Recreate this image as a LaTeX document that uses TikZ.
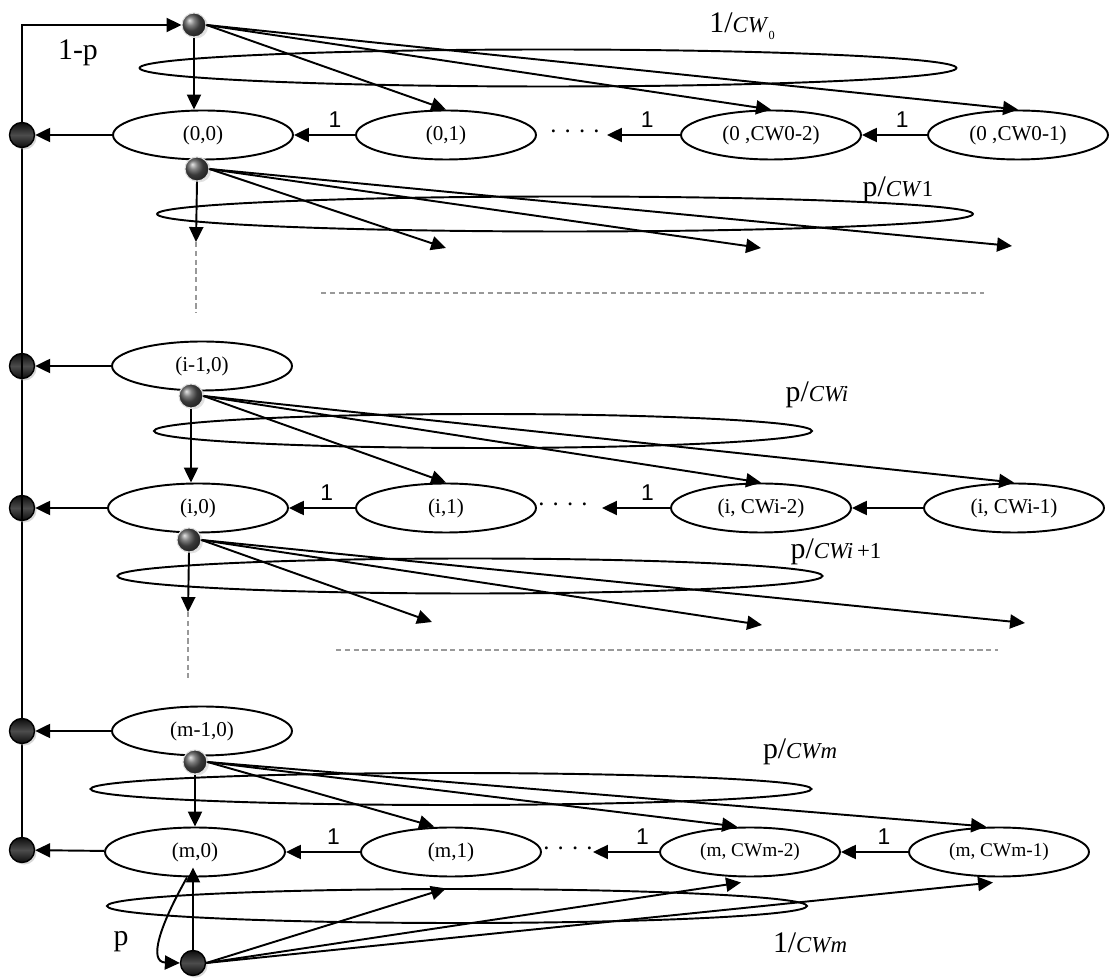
\documentclass[tikz,border=0pt]{standalone}
\usepackage{fontspec}
\setmainfont{Liberation Serif}
\newfontfamily\arialfont{Liberation Sans}
\usetikzlibrary{arrows.meta,positioning,calc,shapes.geometric,shadows,backgrounds}
\tikzset{
  statebox/.style={
    ellipse,
    draw,
    line width=1.1pt,
    minimum width=3.6cm,
    minimum height=0.98cm,
    inner sep=0pt,
    font=\fontsize{12}{14}\selectfont
  },
  smallstate/.style={statebox, font=\fontsize{11}{13}\selectfont},
  pickbox/.style={ellipse, draw, line width=1.1pt, inner sep=0pt},
  dotnode/.style={circle, inner sep=0pt, minimum size=0.48cm, draw=gray!25, line width=0.6pt,
    shading=ball, ball color=gray!65!black,
    drop shadow={shadow xshift=1.2pt, shadow yshift=-0.8pt, fill=gray!45}},
  sinknode/.style={circle, inner sep=0pt, minimum size=0.5cm, draw=black, line width=0.8pt,
    top color=black!95, bottom color=black!95, middle color=gray!60!black,
    drop shadow={shadow xshift=1.2pt, shadow yshift=-1.2pt, fill=gray!60}},
  flow/.style={-{Triangle[length=8.5pt,width=8pt]}, line width=1.1pt},
  gapline/.style={gray!80, line width=0.6pt, dash pattern=on 3pt off 2pt},
  steplabel/.style={font=\arialfont\fontsize{13}{15}\selectfont, inner sep=1pt},
  problabel/.style={font=\fontsize{17}{19}\selectfont, inner sep=0pt},
  dotslabel/.style={font=\fontsize{14}{16}\selectfont, inner sep=0pt}
}
\newcommand{\cwtext}[1]{{\fontsize{13}{15}\selectfont\textit{#1}}}

\begin{document}
\begin{tikzpicture}[x=0.02cm, y=-0.02cm]
\useasboundingbox (0,0) rectangle (1110,979);

\node[statebox] (s00) at (203,135) {(0,0)};
\node[statebox] (s01) at (446,135) {(0,1)};
\node[dotslabel] (dots0) at (575,135) {· · · ·};
\node[statebox] (s0a) at (771,135) {(0 ,CW0-2)};
\node[statebox] (s0b) at (1018,135) {(0 ,CW0-1)};

\node[statebox] (si10) at (202,366) {(i-1,0)};

\node[statebox] (si0) at (198,508) {(i,0)};
\node[statebox] (si1) at (446,508) {(i,1)};
\node[dotslabel] (dotsi) at (563,508) {· · · ·};
\node[statebox] (sia) at (761,508) {(i, CWi-2)};
\node[statebox] (sib) at (1014,508) {(i, CWi-1)};

\node[statebox] (sm10) at (202,731) {(m-1,0)};

\node[statebox] (sm0) at (195,852) {(m,0)};
\node[statebox] (sm1) at (451,852) {(m,1)};
\node[dotslabel] (dotsm) at (568,852) {· · · ·};
\node[smallstate] (sma) at (750,852) {(m, CWm-2)};
\node[smallstate] (smb) at (999,852) {(m, CWm-1)};

\node[pickbox, minimum width=16.34cm, minimum height=0.74cm] (pick0) at (548,68) {};
\node[pickbox, minimum width=16.32cm, minimum height=0.7cm] (pick1) at (565,214) {};
\node[pickbox, minimum width=13.16cm, minimum height=0.68cm] (picki) at (483,431) {};
\node[pickbox, minimum width=14.1cm, minimum height=0.7cm] (pickj) at (470,576) {};
\node[pickbox, minimum width=14.42cm, minimum height=0.64cm] (pickm) at (451,789) {};
\node[pickbox, minimum width=14cm, minimum height=0.68cm] (pickb) at (457,906) {};

\node[dotnode] (top) at (194,25) {};
\node[dotnode] (d0) at (197,169) {};
\node[dotnode] (di1) at (191,396) {};
\node[dotnode] (di) at (189,540) {};
\node[dotnode] (dm1) at (195,762) {};
\node[sinknode] (bot) at (193,963) {};

\node[sinknode] (c0) at (22,135) {};
\node[sinknode] (ci1) at (22,366) {};
\node[sinknode] (ci) at (22,508) {};
\node[sinknode] (cm1) at (22,731) {};
\node[sinknode] (cm) at (22,850) {};

\coordinate (corner) at (22,25);
\coordinate (e0) at (607,135);
\coordinate (ei) at (602,508);
\coordinate (em) at (593,852);
\coordinate (v0) at (196,242);
\coordinate (v0e) at (196,313);
\coordinate (f0a) at (446,248);
\coordinate (f0b) at (761,248);
\coordinate (f0c) at (1012,246);
\coordinate (vi) at (188,612);
\coordinate (vie) at (188,678);
\coordinate (fia) at (432,622);
\coordinate (fib) at (762,625);
\coordinate (fic) at (1025,623);
\coordinate (h0a) at (321,293);
\coordinate (h0b) at (984,293);
\coordinate (hia) at (336,650);
\coordinate (hib) at (998,650);

\node[problabel] (lone) at (78,53) {1-p};
\node[problabel] (lcw0) at (742,26) {1/\cwtext{CW}\raisebox{-4pt}{\fontsize{7}{8}\selectfont 0}};
\node[problabel] (lcw1) at (898,190) {p/\cwtext{CW}{\fontsize{13}{15}\selectfont 1}};
\node[problabel] (lcwi) at (817,395) {p/\cwtext{CWi}};
\node[problabel] (lcwj) at (836,552) {p/\cwtext{CWi}{\fontsize{13}{15}\selectfont\,+1}};
\node[problabel] (lcwm) at (800,752) {p/\cwtext{CWm}};
\node[problabel] (lcwb) at (810,943) {1/\cwtext{CWm}};
\node[problabel] (lp) at (121,942) {p};

\begin{scope}[on background layer]
\draw[flow] (cm) -- (corner) -- (top);
\end{scope}
\draw[line width=1.1pt] (ci1.north) -- (ci1.south);
\draw[line width=1.1pt] (ci.north) -- (ci.south);

\draw[flow] (s00) -- (c0);
\draw[flow] (si10) -- (ci1);
\draw[flow] (si0) -- (ci);
\draw[flow] (sm10) -- (cm1);
\draw[flow] (sm0) -- (cm);

\draw[flow] (s01) -- node[steplabel, above=3pt, pos=0.33] {1} (s00);
\draw[flow] (s0a) -- node[steplabel, above=3pt, pos=0.45] {1} (e0);
\draw[flow] (s0b) -- node[steplabel, above=3pt, pos=0.38] {1} (s0a);
\draw[flow] (si1) -- node[steplabel, above=3pt, pos=0.43] {1} (si0);
\draw[flow] (sia) -- node[steplabel, above=3pt, pos=0.33] {1} (ei);
\draw[flow] (sib) -- (sia);
\draw[flow] (sm1) -- node[steplabel, above=3pt, pos=0.36] {1} (sm0);
\draw[flow] (sma) -- node[steplabel, above=3pt, pos=0.25] {1} (em);
\draw[flow] (smb) -- node[steplabel, above=3pt, pos=0.36] {1} (sma);

\draw[flow] (top.south) -- (top.south |- s00.north);
\draw[flow] (top.east) -- (s01.north);
\draw[flow] (top.east) -- (s0a.north);
\draw[flow] (top.east) -- (s0b.north);

\draw[flow] (d0.south) -- (v0);
\draw[flow] (d0.east) -- (f0a);
\draw[flow] (d0.east) -- (f0b);
\draw[flow] (d0.east) -- (f0c);
\draw[gapline] (v0) -- (v0e);
\draw[gapline] (h0a) -- (h0b);

\draw[flow] (di1.south) -- (di1.south |- si0.north);
\draw[flow] (di1.east) -- (si1.north);
\draw[flow] (di1.east) -- (sia.north);
\draw[flow] (di1.east) -- (sib.north);

\draw[flow] (di.south) -- (vi);
\draw[flow] (di.east) -- (fia);
\draw[flow] (di.east) -- (fib);
\draw[flow] (di.east) -- (fic);
\draw[gapline] (vi) -- (vie);
\draw[gapline] (hia) -- (hib);

\draw[flow] (dm1.south) -- (dm1.south |- sm0.north);
\draw[flow] (dm1.east) -- ([xshift=-0.34cm]sm1.north);
\draw[flow] (dm1.east) -- ([xshift=-0.26cm]sma.north);
\draw[flow] (dm1.east) -- ([xshift=-0.26cm]smb.north);

\draw[flow] (bot.north) -- ($(bot.north |- sm0.south)+(0,-10)$);
\draw[flow] ([xshift=-0.16cm]sm0.south) .. controls (160,925) and (148,962) .. (bot.west);
\draw[flow] (bot.east) -- ([xshift=-0.1cm,yshift=-0.22cm]sm1.south);
\draw[flow] (bot.east) -- ([xshift=-0.18cm,yshift=-0.1cm]sma.south);
\draw[flow] (bot.east) -- ([xshift=-0.12cm,yshift=-0.1cm]smb.south);
\end{tikzpicture}
\end{document}
